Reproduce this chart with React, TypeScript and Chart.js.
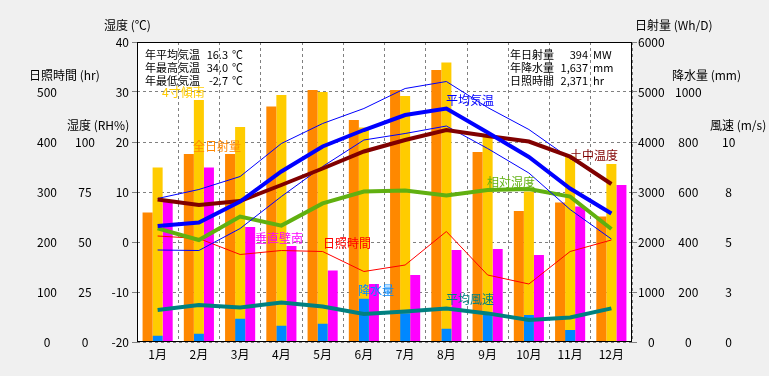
import React, { useEffect, useRef } from 'react';
import { Chart, registerables } from 'chart.js';

Chart.register(...registerables);

const months = ['1月', '2月', '3月', '4月', '5月', '6月', '7月', '8月', '9月', '10月', '11月', '12月'];

// Solar radiation (Wh/D)
const solarAll = [2590, 3760, 3760, 4710, 5040, 4440, 5040, 5440, 3800, 2620, 2790, 2510];
const solarTilt = [3490, 4840, 4300, 4940, 5000, 4290, 4920, 5590, 4100, 3010, 3710, 3560];
const solarVert = [2840, 3490, 2300, 1920, 1430, 1160, 1340, 1840, 1860, 1740, 2710, 3140];
// Precipitation (mm)
const precip = [25, 33, 93, 65, 73, 173, 115, 53, 117, 108, 48, 0];
// Temperatures (℃)
const tempMean = [3.2, 3.9, 8.1, 14.1, 19.1, 22.4, 25.4, 26.7, 21.9, 17.0, 10.7, 5.7];
const tempMax = [8.7, 10.5, 13.1, 19.7, 23.7, 26.7, 30.7, 32.1, 26.9, 22.5, 16.7, 11.7];
const tempMin = [-1.6, -1.7, 2.7, 9.1, 15.1, 20.4, 21.7, 23.2, 18.7, 13.8, 6.5, 0.6];
const soilTemp = [8.5, 7.4, 8.2, 11.4, 14.7, 18.1, 20.4, 22.4, 21.2, 20.1, 17.1, 11.6];
// Relative humidity (RH%)
const humidity = [56.8, 51.0, 62.7, 58.2, 69.3, 75.2, 75.7, 73.2, 76.0, 76.5, 72.7, 56.5];
// Sunshine hours (hr)
const sunshine = [212, 207, 175, 183, 181, 141, 154, 221, 134, 116, 181, 204];
// Wind speed (m/s)
const wind = [1.6, 1.85, 1.72, 1.97, 1.77, 1.4, 1.52, 1.68, 1.43, 1.1, 1.23, 1.68];

const statsLeft = [
  ['年平均気温', '16.3', '℃'],
  ['年最高気温', '34.0', '℃'],
  ['年最低気温', '-2.7', '℃'],
];
const statsRight = [
  ['年日射量', '394', 'MW'],
  ['年降水量', '1,637', 'mm'],
  ['日照時間', '2,371', 'hr'],
];

const FONT = '"Noto Sans CJK JP", "Noto Sans", sans-serif';

const C = {
  orange: '#FF8800',
  gold: '#FFCC00',
  magenta: '#FF00FF',
  precip: '#0088FF',
  blue: '#0000FF',
  soil: '#800000',
  green: '#60B010',
  red: '#FF0000',
  teal: '#008080',
  grid: '#808080',
};

const bgPlugin = {
  id: 'bgPlugin',
  beforeDraw(chart: any) {
    const { ctx, chartArea: a, width, height } = chart;
    ctx.save();
    ctx.fillStyle = '#f0f0f0';
    ctx.fillRect(0, 0, width, height);
    ctx.fillStyle = '#ffffff';
    ctx.fillRect(a.left, a.top, a.right - a.left, a.bottom - a.top);
    ctx.restore();
  },
};

const textPlugin = {
  id: 'textPlugin',
  afterDatasetsDraw(chart: any) {
    const { ctx, chartArea: a } = chart;
    ctx.save();
    // plot border
    ctx.strokeStyle = '#000';
    ctx.lineWidth = 1;
    ctx.setLineDash([]);
    ctx.strokeRect(a.left + 0.5, a.top + 0.5, a.right - a.left - 1, a.bottom - a.top - 1);

    ctx.textBaseline = 'middle';

    const put = (t: string, x: number, y: number, color: string, align: CanvasTextAlign = 'left') => {
      ctx.fillStyle = color;
      ctx.textAlign = align;
      ctx.fillText(t, x, y);
    };

    // stats boxes
    ctx.font = `11px ${FONT}`;
    statsLeft.forEach((r, i) => {
      const y = 55 + i * 13;
      put(r[0], 145, y, '#000');
      put(r[1], 228, y, '#000', 'right');
      put(r[2], 232, y, '#000');
    });
    statsRight.forEach((r, i) => {
      const y = 55 + i * 13;
      put(r[0], 510, y, '#000');
      put(r[1], 588, y, '#000', 'right');
      put(r[2], 593, y, '#000');
    });

    ctx.font = `12px ${FONT}`;
    // series labels
    put('4寸傾南', 162, 92, C.gold);
    put('全日射量', 193, 146, C.orange);
    put('平均気温', 446, 100, C.blue);
    put('土中温度', 570, 155, C.soil);
    put('相対湿度', 487, 182, C.green);
    put('垂直壁南', 255, 238, C.magenta);
    put('日照時間', 323, 243, C.red);
    put('降水量', 358, 290, C.precip);
    put('平均風速', 446, 299, C.teal);

    // axis titles
    put('湿度 (℃)', 104, 25, '#000');
    put('日照時間 (hr)', 29, 75, '#000');
    put('湿度 (RH%)', 67, 125, '#000');
    put('日射量 (Wh/D)', 635, 25, '#000');
    put('降水量 (mm)', 672, 75, '#000');
    put('風速 (m/s)', 710, 125, '#000');
    ctx.restore();
  },
};

const fixW = (w: number) => (scale: any) => {
  scale.width = w;
};

export default function App() {
  const ref = useRef<HTMLCanvasElement>(null);

  useEffect(() => {
    if (!ref.current) return;
    const tickFont = { family: FONT, size: 12 };
    const line = (label: string, data: number[], color: string, width: number, axis: string) => ({
      type: 'line' as const,
      label,
      data,
      borderColor: color,
      backgroundColor: color,
      borderWidth: width,
      pointRadius: 0,
      tension: 0,
      fill: false,
      yAxisID: axis,
      order: 0,
    });
    const bar = (label: string, data: number[], color: string, axis: string, stack: string) => ({
      type: 'bar' as const,
      label,
      data,
      backgroundColor: color,
      borderWidth: 0,
      yAxisID: axis,
      stack,
      order: 1,
      categoryPercentage: 0.73,
      barPercentage: 1.0,
    });

    const chart = new Chart(ref.current, {
      type: 'bar',
      data: {
        labels: months,
        datasets: [
          line('平均気温', tempMean, C.blue, 4, 'yTemp'),
          line('土中温度', soilTemp, C.soil, 4, 'yTemp'),
          line('最高気温', tempMax, C.blue, 1, 'yTemp'),
          line('最低気温', tempMin, C.blue, 1, 'yTemp'),
          line('平均風速', wind, C.teal, 4, 'yWind'),
          line('相対湿度', humidity, C.green, 4, 'yRH'),
          line('日照時間', sunshine, C.red, 1, 'ySun'),
          bar('全日射量', solarAll, C.orange, 'ySolar', 'a'),
          bar('降水量', precip, C.precip, 'yPrec', 'b'),
          bar('4寸傾南', solarTilt, C.gold, 'ySolar', 'b'),
          bar('垂直壁南', solarVert, C.magenta, 'ySolar', 'c'),
        ] as any,
      },
      options: {
        animation: false,
        responsive: false,
        maintainAspectRatio: false,
        layout: { padding: { top: 42, left: 0, right: 0, bottom: 0 } },
        plugins: {
          legend: { display: false },
          tooltip: { enabled: false },
          title: { display: false },
        },
        scales: {
          x: {
            type: 'category',
            offset: true,
            grid: { display: true, offset: true, color: C.grid, drawTicks: false, lineWidth: 1 },
            border: { display: false, dash: [3, 3] },
            ticks: { font: tickFont, color: '#000', padding: 5, maxRotation: 0, autoSkip: false },
            afterFit: (s: any) => {
              s.height = 34;
            },
          },
          yTemp: {
            position: 'left',
            weight: 1,
            min: -20,
            max: 40,
            stacked: false,
            ticks: {
              stepSize: 10,
              font: tickFont,
              color: '#000',
              padding: 3,
              autoSkip: false,
              callback: (v: any) => String(v),
            },
            grid: { color: C.grid, drawTicks: true, tickLength: 5, tickColor: C.grid },
            border: { display: false, dash: [3, 3] },
            afterFit: fixW(42),
          },
          yRH: {
            position: 'left',
            weight: 2,
            min: 0,
            max: 150,
            stacked: false,
            ticks: {
              stepSize: 25,
              font: tickFont,
              color: '#000',
              padding: 0,
              crossAlign: 'center',
              autoSkip: false,
              callback: (v: any) => (v <= 100 ? String(v) : null),
            },
            grid: { display: false, drawTicks: false },
            border: { display: false },
            afterFit: fixW(38),
          },
          ySun: {
            position: 'left',
            weight: 3,
            min: 0,
            max: 600,
            stacked: false,
            ticks: {
              stepSize: 100,
              font: tickFont,
              color: '#000',
              padding: 0,
              crossAlign: 'center',
              autoSkip: false,
              callback: (v: any) => (v <= 500 ? String(v) : null),
            },
            grid: { display: false, drawTicks: false },
            border: { display: false },
            afterFit: fixW(57),
          },
          ySolar: {
            position: 'right',
            weight: 1,
            min: 0,
            max: 6000,
            stacked: false,
            ticks: {
              stepSize: 1000,
              font: tickFont,
              color: '#000',
              padding: 1,
              crossAlign: 'center',
              autoSkip: false,
              callback: (v: any) => String(v),
            },
            grid: { display: true, drawOnChartArea: false, drawTicks: true, tickLength: 5, color: C.grid, tickColor: C.grid },
            border: { display: false },
            afterFit: fixW(38),
          },
          yPrec: {
            position: 'right',
            weight: 2,
            min: 0,
            max: 1200,
            stacked: false,
            ticks: {
              stepSize: 200,
              font: tickFont,
              color: '#000',
              padding: 5,
              crossAlign: 'center',
              autoSkip: false,
              callback: (v: any) => (v <= 1000 ? String(v) : null),
            },
            grid: { display: false, drawTicks: false },
            border: { display: false },
            afterFit: fixW(38),
          },
          yWind: {
            position: 'right',
            weight: 3,
            min: 0,
            max: 15,
            stacked: false,
            ticks: {
              stepSize: 2.5,
              font: tickFont,
              color: '#000',
              padding: 14,
              crossAlign: 'center',
              autoSkip: false,
              callback: (v: any) => (v <= 10 ? String(Math.round(v)) : null),
            },
            grid: { display: false, drawTicks: false },
            border: { display: false },
            afterFit: fixW(61),
          },
        },
      } as any,
      plugins: [bgPlugin, textPlugin],
    });
    return () => chart.destroy();
  }, []);

  return (
    <div
      style={{
        position: 'fixed',
        left: 0,
        top: 0,
        width: 769,
        height: 376,
        background: '#f0f0f0',
      }}
    >
      <canvas ref={ref} width={769} height={376} style={{ display: 'block', width: 769, height: 376 }} />
    </div>
  );
}
